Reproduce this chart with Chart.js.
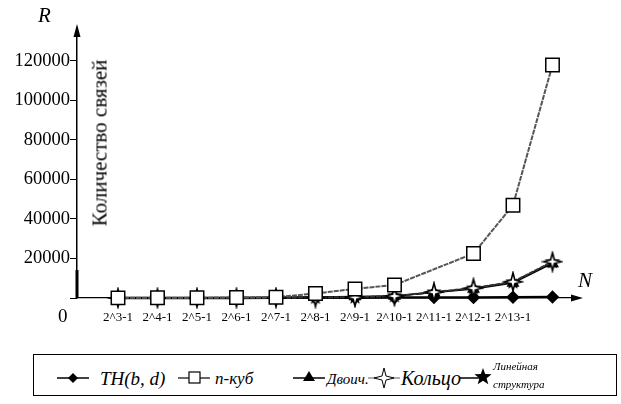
<!DOCTYPE html>
<html>
<head>
<meta charset="utf-8">
<script src="https://cdn.jsdelivr.net/npm/chart.js@4.4.0/dist/chart.umd.min.js"></script>
<style>
  body { margin: 0; background: #fff; width: 621px; height: 404px; position: relative; overflow: hidden;
         font-family: "Liberation Serif", "Tinos", "Times New Roman", "DejaVu Serif", serif; color: #000; }
  #wrap { position: absolute; left: 0; top: 0; width: 621px; height: 340px; }
  .txt { position: absolute; white-space: nowrap; line-height: 1; }
  .it { font-style: italic; }
  #ytitle { position: absolute; left: 100px; top: 143px; font-size: 21px; white-space: nowrap;
            transform: translate(-50%, -50%) rotate(-90deg); }
  #legend { position: absolute; left: 33px; top: 354px; width: 584px; height: 42px;
            border: 1px solid #000; box-sizing: border-box; }
  #legend svg { position: absolute; top: 0; }
</style>
</head>
<body>
<div id="wrap"><canvas id="graph"></canvas></div>
<div class="txt it" style="left:38px; top:5px; font-size:21px;">R</div>
<div class="txt it" style="left:578px; top:270px; font-size:21px;">N</div>
<div class="txt" style="left:58px; top:306px; font-size:19px;">0</div>
<div id="ytitle">Количество связей</div>

<div id="legend">
  <svg style="left:22px" width="34" height="42"><line x1="1" y1="23" x2="33" y2="23" stroke="#000" stroke-width="1.5"/><polygon points="17,18 22,23 17,28 12,23" fill="#000"/></svg>
  <div class="txt it" style="left:66px; top:14px; font-size:19px;">TH(b, d)</div>
  <svg style="left:143px" width="34" height="42"><line x1="1" y1="23" x2="33" y2="23" stroke="#000" stroke-width="1.2"/><rect x="12" y="17" width="11" height="11" fill="#fff" stroke="#000" stroke-width="1.2"/></svg>
  <div class="txt it" style="left:181px; top:15px; font-size:17px;">n-куб</div>
  <svg style="left:258px" width="34" height="42"><line x1="1" y1="23" x2="33" y2="23" stroke="#000" stroke-width="1.5"/><polygon points="17,16 23,26 11,26" fill="#000"/></svg>
  <div class="txt it" style="left:293px; top:17px; font-size:15px;">Двоич.</div>
  <svg style="left:333px" width="34" height="42"><line x1="1" y1="23" x2="33" y2="23" stroke="#777" stroke-width="1.2"/><polygon points="17,13 19,21 27,23 19,25 17,33 15,25 7,23 15,21" fill="#fff" stroke="#000" stroke-width="1"/></svg>
  <div class="txt it" style="left:367px; top:13px; font-size:20px;">Кольцо</div>
  <svg style="left:424px" width="34" height="42"><line x1="1" y1="23" x2="22" y2="23" stroke="#000" stroke-width="1.5"/><polygon id="lgstar" fill="#000"/></svg>
  <div class="txt it" style="left:459px; top:6px; font-size:11px;">Линейная</div>
  <div class="txt it" style="left:459px; top:24px; font-size:11px;">структура</div>
</div>

<script>
const serif = '"Liberation Serif", "Tinos", "Times New Roman", "DejaVu Serif", serif';

// Подписи оси N
const labels = ['2^3-1', '2^4-1', '2^5-1', '2^6-1', '2^7-1', '2^8-1', '2^9-1', '2^10-1', '2^11-1', '2^12-1', '2^13-1', ''];

// Количество связей (по рисунку)
const cube = [60, 100, 150, 250, 400, 2300, 4600, 6600, null, 22500, 47000, 118000];
const ring = [10, 20, 40, 70, 130, 250, 400, 1000, 3000, 5000, 8200, 18400];
const linear = [10, 20, 40, 70, 130, 250, 400, 1000, 2900, 4900, 8000, 18200];
const binary = [20, 40, 80, 150, 300, 500, 700, 1000, 2800, 4600, 7600, 17500];
const th = [10, 20, 30, 50, 80, 100, 150, 200, 250, 300, 400, 500];

// Деления оси R
const yTicks = [0, 20000, 40000, 60000, 80000, 100000, 120000];

// Звёздочки для маркеров
function starPoints(n, outer, inner, cx, cy) {
    const pts = [];
    for (let i = 0; i < n * 2; i++) {
        const r = i % 2 === 0 ? outer : inner;
        const a = -Math.PI / 2 + i * Math.PI / n;
        pts.push([cx + r * Math.cos(a), cy + r * Math.sin(a)]);
    }
    return pts;
}

function makeStar(n, outer, inner, fill, stroke) {
    const c = document.createElement('canvas');
    const s = Math.ceil(outer * 2 + 4);
    c.width = s;
    c.height = s;
    const g = c.getContext('2d');
    g.beginPath();
    starPoints(n, outer, inner, s / 2, s / 2).forEach((p, i) => i ? g.lineTo(p[0], p[1]) : g.moveTo(p[0], p[1]));
    g.closePath();
    g.fillStyle = fill;
    g.fill();
    if (stroke) {
        g.strokeStyle = stroke;
        g.lineWidth = 1.6;
        g.stroke();
    }
    return c;
}

const ringStar = makeStar(4, 9, 2.6, '#fff', '#000');
const blackStar = makeStar(5, 8, 3.4, '#000', null);

document.getElementById('lgstar').setAttribute('points',
    starPoints(5, 9, 3.8, 25, 22).map(p => p[0].toFixed(1) + ',' + p[1].toFixed(1)).join(' '));

const toXY = arr => arr.map((v, i) => ({ x: i, y: v }));

// Стрелки на концах осей
const arrowPlugin = {
    id: 'arrowPlugin',
    afterDraw: (chart) => {
        const ctx = chart.ctx;
        const a = chart.chartArea;
        ctx.save();
        ctx.fillStyle = '#000';
        ctx.beginPath();
        ctx.moveTo(a.left, a.top - 4);
        ctx.lineTo(a.left - 3.5, a.top + 9);
        ctx.lineTo(a.left + 3.5, a.top + 9);
        ctx.closePath();
        ctx.fill();
        ctx.beginPath();
        ctx.moveTo(a.right + 8, a.bottom);
        ctx.lineTo(a.right - 4, a.bottom - 3.5);
        ctx.lineTo(a.right - 4, a.bottom + 3.5);
        ctx.closePath();
        ctx.fill();
        ctx.fillRect(a.left - 1.5, a.bottom - 28, 3, 28);
        ctx.restore();
    }
};

const ctx = document.getElementById('graph').getContext('2d');

const graph = new Chart(ctx, {
    type: 'line',
    data: {
        datasets: [
            {
                label: 'n-куб',
                data: toXY(cube),
                borderColor: '#555',
                borderWidth: 2,
                borderDash: [5, 1],
                pointStyle: 'rect',
                pointRadius: 9.5,
                pointBackgroundColor: '#fff',
                pointBorderColor: '#000',
                pointBorderWidth: 1.5,
                spanGaps: true,
                clip: false
            },
            {
                label: 'Кольцо',
                data: toXY(ring),
                borderColor: '#333',
                borderWidth: 2,
                borderDash: [5, 1],
                pointStyle: ringStar,
                clip: false
            },
            {
                label: 'Линейная структура',
                data: toXY(linear),
                borderColor: '#000',
                borderWidth: 1.5,
                pointStyle: blackStar,
                clip: false
            },
            {
                label: 'Двоич.',
                data: toXY(binary),
                borderColor: '#000',
                borderWidth: 1.5,
                pointStyle: 'triangle',
                pointRadius: 6,
                pointBackgroundColor: '#000',
                pointBorderColor: '#000',
                clip: false
            },
            {
                label: 'TH(b, d)',
                data: toXY(th),
                borderColor: '#000',
                borderWidth: 2.5,
                pointStyle: 'rectRot',
                pointRadius: 5,
                pointBackgroundColor: '#000',
                pointBorderColor: '#000',
                clip: false
            }
        ]
    },
    options: {
        responsive: true,
        maintainAspectRatio: false,
        animation: false,
        events: [],
        layout: {
            padding: { top: 28, right: 46, left: 0, bottom: 0 }
        },
        plugins: {
            legend: { display: false },
            tooltip: { enabled: false }
        },
        elements: {
            line: { tension: 0 }
        },
        scales: {
            x: {
                type: 'linear',
                min: -1.038,
                max: 11.57,
                afterBuildTicks: (axis) => {
                    axis.ticks = labels.map((_, i) => ({ value: i }));
                },
                afterFit: (axis) => {
                    axis.height = 42;
                },
                border: { color: '#000', width: 1.2 },
                grid: {
                    drawOnChartArea: false,
                    drawTicks: true,
                    tickLength: 5,
                    color: '#000'
                },
                ticks: {
                    color: '#000',
                    padding: 7,
                    maxRotation: 0,
                    autoSkip: false,
                    font: { family: serif, size: 13 },
                    callback: (v) => labels[v] ?? ''
                }
            },
            y: {
                min: 0,
                max: 136700,
                afterBuildTicks: (axis) => {
                    axis.ticks = yTicks.map(v => ({ value: v }));
                },
                afterFit: (axis) => {
                    axis.width = 77;
                },
                border: { color: '#000', width: 1.5 },
                grid: {
                    drawOnChartArea: false,
                    drawTicks: true,
                    tickLength: 7,
                    color: '#000'
                },
                ticks: {
                    color: '#000',
                    padding: 0,
                    font: { family: serif, size: 18.5 },
                    callback: (v) => v === 0 ? '' : String(v)
                }
            }
        }
    },
    plugins: [arrowPlugin]
});
</script>
</body>
</html>
